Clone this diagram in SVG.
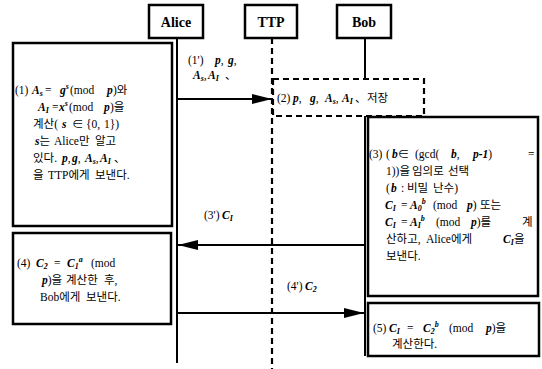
<svg xmlns="http://www.w3.org/2000/svg" width="542" height="369" viewBox="0 0 542 369">
<defs>
<style>
text{font-family:"Liberation Serif","Noto Sans CJK KR",serif;font-size:11.5px;fill:#000;white-space:pre}
.hd{font-weight:bold;font-size:14px;text-anchor:middle}
.m{font-style:italic;font-weight:bold}
.s{font-size:8px}
.box{fill:#fff;stroke:#000;stroke-width:2.5}
.life{stroke:#000;stroke-width:2;fill:none}
.dash{stroke:#000;stroke-width:2.2;fill:none;stroke-dasharray:6 4}
.arr{stroke:#000;stroke-width:2;fill:none}
</style>
<marker id="ah" viewBox="0 0 20 10" refX="20" refY="5" markerWidth="20" markerHeight="10" markerUnits="userSpaceOnUse" orient="auto">
<path d="M0,0 L20,5 L0,10 Z" fill="#000"/>
</marker>
</defs>
<g id="lifelines">
<line class="life" x1="177" y1="38" x2="177" y2="363"/>
<line class="dash" x1="272" y1="38" x2="272" y2="369"/>
<line class="life" x1="365" y1="38" x2="365" y2="79"/>
<line class="life" x1="365" y1="116" x2="365" y2="356"/>
</g>
<g id="alice"><rect class="box" x="149" y="5" width="54" height="33"/><text class="hd" x="176" y="27">Alice</text></g>
<g id="ttp"><rect class="box" x="245" y="5" width="52" height="33"/><text class="hd" x="271" y="27">TTP</text></g>
<g id="bob"><rect class="box" x="337" y="5" width="54" height="33"/><text class="hd" x="364" y="27">Bob</text></g>
<g id="step1"><rect class="box" x="13" y="43" width="159" height="183"/>
<text y="94"><tspan x="15">(1)</tspan><tspan x="32" class="m">A</tspan><tspan class="s m" dy="2">s</tspan><tspan x="45" dy="-2">=</tspan><tspan x="60" class="m">g</tspan><tspan class="s m" dy="-5">s</tspan><tspan x="70" dy="5">(mod</tspan><tspan x="107" class="m">p</tspan><tspan x="113">)와</tspan></text>
<text y="111"><tspan x="38" class="m">A</tspan><tspan class="s m" dy="2">I</tspan><tspan x="52" dy="-2">=</tspan><tspan x="59" class="m">x</tspan><tspan class="s m" dy="-5">s</tspan><tspan x="69" dy="5">(mod</tspan><tspan x="104" class="m">p</tspan><tspan x="110">)을</tspan></text>
<text y="128"><tspan x="33">계산(</tspan><tspan x="62" class="m">s</tspan><tspan x="72">∈</tspan><tspan x="86">{0,</tspan><tspan x="104">1})</tspan></text>
<text y="145"><tspan x="35" class="m">s</tspan><tspan>는</tspan><tspan x="54">Alice만</tspan><tspan x="95">알고</tspan></text>
<text y="162"><tspan x="33">있다.</tspan><tspan x="62" class="m">p</tspan><tspan>,</tspan><tspan x="72" class="m">g</tspan><tspan>,</tspan><tspan x="85" class="m">A</tspan><tspan class="s m" dy="2">s</tspan><tspan dy="-2">,</tspan><tspan x="100" class="m">A</tspan><tspan class="s m" dy="2">I</tspan><tspan x="114" dy="-2">、</tspan></text>
<text y="179"><tspan x="33">을</tspan><tspan x="48">TTP에게</tspan><tspan x="95">보낸다.</tspan></text>
</g>
<g id="step2"><rect class="dash" x="273" y="79" width="151" height="37"/>
<text y="102"><tspan x="277">(2)</tspan><tspan x="293" class="m">p</tspan><tspan>,</tspan><tspan x="310" class="m">g</tspan><tspan>,</tspan><tspan x="325" class="m">A</tspan><tspan class="s m" dy="2">s</tspan><tspan dy="-2">,</tspan><tspan x="342" class="m">A</tspan><tspan class="s m" dy="2">I</tspan><tspan x="355" dy="-2">、</tspan><tspan x="367">저장</tspan></text>
</g>
<g id="step3"><rect class="box" x="368" y="117" width="170" height="179"/>
<text y="158"><tspan x="369">(3)</tspan><tspan x="386">(</tspan><tspan x="392" class="m">b</tspan><tspan>∈</tspan><tspan x="415">(gcd(</tspan><tspan x="451" class="m">b</tspan><tspan>,</tspan><tspan x="473" class="m">p-1</tspan><tspan>)</tspan><tspan x="528">=</tspan></text>
<text y="175"><tspan x="386">1))을</tspan><tspan x="412">임의로</tspan><tspan x="448">선택</tspan></text>
<text y="192"><tspan x="386">(</tspan><tspan x="391" class="m">b</tspan><tspan x="401">:</tspan><tspan x="407">비밀</tspan><tspan x="433">난수)</tspan></text>
<text y="209"><tspan x="385" class="m">C</tspan><tspan class="s m" dy="2">I</tspan><tspan x="401" dy="-2">=</tspan><tspan x="410" class="m">A</tspan><tspan class="s m" dy="2">0</tspan><tspan class="s m" dy="-7">b</tspan><tspan x="433" dy="5">(mod</tspan><tspan x="467" class="m">p</tspan><tspan>)</tspan><tspan x="480">또는</tspan></text>
<text y="226"><tspan x="385" class="m">C</tspan><tspan class="s m" dy="2">I</tspan><tspan x="401" dy="-2">=</tspan><tspan x="410" class="m">A</tspan><tspan class="s m" dy="2">I</tspan><tspan class="s m" dy="-7">b</tspan><tspan x="436" dy="5">(mod</tspan><tspan x="471" class="m">p</tspan><tspan>)를</tspan><tspan x="522">계</tspan></text>
<text y="243"><tspan x="386">산하고,</tspan><tspan x="426">Alice에게</tspan><tspan x="503" class="m">C</tspan><tspan class="s m" dy="2">I</tspan><tspan dy="-2" x="514">을</tspan></text>
<text x="386" y="260">보낸다.</text>
</g>
<g id="step4"><rect class="box" x="13" y="233" width="158" height="91"/>
<text y="267"><tspan x="17">(4)</tspan><tspan x="36" class="m">C</tspan><tspan class="s m" dy="2">2</tspan><tspan x="54" dy="-2">=</tspan><tspan x="67" class="m">C</tspan><tspan class="s m" dy="2">1</tspan><tspan class="s m" dy="-7">a</tspan><tspan x="91" dy="5">(mod</tspan></text>
<text y="284"><tspan x="42" class="m">p</tspan><tspan>)을</tspan><tspan x="66">계산한</tspan><tspan x="104">후,</tspan></text>
<text y="301"><tspan x="40">Bob에게</tspan><tspan x="86">보낸다.</tspan></text>
</g>
<g id="step5"><rect class="box" x="368" y="303" width="171" height="53"/>
<text y="332"><tspan x="373">(5)</tspan><tspan x="389" class="m">C</tspan><tspan class="s m" dy="2">I</tspan><tspan x="407" dy="-2">=</tspan><tspan x="423" class="m">C</tspan><tspan class="s m" dy="2">2</tspan><tspan class="s m" dy="-7">b</tspan><tspan x="449" dy="5">(mod</tspan><tspan x="486" class="m">p</tspan><tspan>)을</tspan></text>
<text x="392" y="348">계산한다.</text>
</g>
<g id="connectors">
<line class="arr" x1="177" y1="99" x2="272" y2="99" marker-end="url(#ah)"/>
<text y="64"><tspan x="188">(1')</tspan><tspan x="215" class="m">p</tspan><tspan>,</tspan><tspan x="228" class="m">g</tspan><tspan>,</tspan></text>
<text y="79"><tspan x="193" class="m">A</tspan><tspan class="s m" dy="2">s</tspan><tspan dy="-2">,</tspan><tspan x="208" class="m">A</tspan><tspan class="s m" dy="2">I</tspan><tspan x="225" dy="-2">、</tspan></text>
<line class="arr" x1="365" y1="245" x2="178" y2="245" marker-end="url(#ah)"/>
<text y="219"><tspan x="204">(3')</tspan><tspan x="222" class="m">C</tspan><tspan class="s m" dy="2">I</tspan></text>
<line class="arr" x1="177" y1="313" x2="364" y2="313" marker-end="url(#ah)"/>
<text y="290"><tspan x="287">(4')</tspan><tspan x="305" class="m">C</tspan><tspan class="s m" dy="2">2</tspan></text>
</g>
</svg>
